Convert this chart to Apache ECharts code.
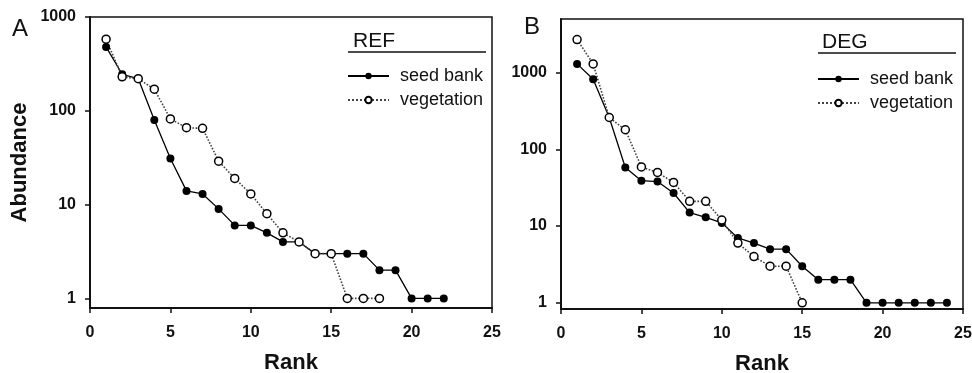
<!DOCTYPE html>
<html>
<head>
<meta charset="utf-8">
<script src="https://cdn.jsdelivr.net/npm/echarts@6/dist/echarts.min.js"></script>
<style>
  html, body { margin: 0; padding: 0; background: #fff; }
  #chart { width: 972px; height: 373px; }
</style>
</head>
<body>
<div id="chart"></div>
<script>
// rank-abundance values
const seedBankRef = [480, 245, 220, 80, 31, 14, 13, 9, 6, 6, 5, 4, 4, 3, 3, 3, 3, 2, 2, 1, 1, 1]
const vegetationRef = [580, 230, 220, 170, 82, 66, 65, 29, 19, 13, 8, 5, 4, 3, 3, 1, 1, 1]
const seedBankDeg = [1300, 820, 260, 58, 39, 38, 27, 15, 13, 11, 7, 6, 5, 5, 3, 2, 2, 2, 1, 1, 1, 1, 1, 1]
const vegetationDeg = [2700, 1300, 260, 180, 59, 50, 37, 21, 21, 12, 6, 4, 3, 3, 1]
const yTicks = [1, 10, 100, 1000]

const font = 'Liberation Sans, Arial, sans-serif'

function ranked(values) {
  return values.map((v, i) => [i + 1, v])
}

function xAxis(gridIndex) {
  return {
    type: 'value',
    gridIndex: gridIndex,
    min: 0,
    max: 25,
    interval: 5,
    name: 'Rank',
    nameLocation: 'middle',
    nameGap: 44,
    nameTextStyle: { fontFamily: font, fontSize: 22, fontWeight: 'bold', color: '#111' },
    axisLine: { onZero: false, lineStyle: { color: '#111', width: 2 } },
    axisTick: { length: 5, lineStyle: { color: '#111', width: 1.5 } },
    axisLabel: { margin: 17, fontFamily: font, fontSize: 16, fontWeight: 'bold', color: '#111' },
    splitLine: { show: false }
  }
}

function yAxis(gridIndex, min, max, name) {
  return {
    type: 'log',
    logBase: 10,
    gridIndex: gridIndex,
    min: min,
    max: max,
    name: name,
    nameLocation: 'middle',
    nameGap: 59,
    nameTextStyle: { fontFamily: font, fontSize: 22, fontWeight: 'bold', color: '#111' },
    axisLine: { show: true, lineStyle: { color: '#111', width: 2 } },
    axisTick: { show: true, length: 5, customValues: yTicks, lineStyle: { color: '#111', width: 1.5 } },
    axisLabel: {
      margin: 14,
      customValues: yTicks,
      formatter: v => String(v),
      fontFamily: font,
      fontSize: 16,
      fontWeight: 'bold',
      color: '#111'
    },
    splitLine: { show: false },
    minorTick: { show: false }
  }
}

function seedSeries(data, idx) {
  return {
    name: 'seed bank',
    type: 'line',
    xAxisIndex: idx,
    yAxisIndex: idx,
    data: ranked(data),
    symbol: 'circle',
    symbolSize: 8,
    itemStyle: { color: '#000' },
    lineStyle: { color: '#000', width: 1.3 },
    animation: false
  }
}

function vegSeries(data, idx) {
  return {
    name: 'vegetation',
    type: 'line',
    xAxisIndex: idx,
    yAxisIndex: idx,
    data: ranked(data),
    symbol: 'circle',
    symbolSize: 8,
    itemStyle: { color: '#fff', borderColor: '#000', borderWidth: 1.5 },
    lineStyle: { color: '#444', width: 1.6, type: 'dotted' },
    animation: false
  }
}

function legend(left, top) {
  return {
    left: left,
    top: top,
    orient: 'vertical',
    itemWidth: 41,
    itemHeight: 8,
    itemGap: 6,
    selectedMode: false,
    data: ['seed bank', 'vegetation'],
    textStyle: { fontFamily: font, fontSize: 18, color: '#111', padding: [0, 0, 0, 6] }
  }
}

const chart = echarts.init(document.getElementById('chart'))
chart.setOption({
  backgroundColor: '#fff',
  title: [
    { text: 'A', left: 7, top: 12, textStyle: { fontFamily: font, fontSize: 24, fontWeight: 'normal', color: '#111' } },
    { text: 'B', left: 519, top: 10, textStyle: { fontFamily: font, fontSize: 24, fontWeight: 'normal', color: '#111' } },
    { text: 'REF', left: 348, top: 26, textStyle: { fontFamily: font, fontSize: 21, fontWeight: 'normal', color: '#111' } },
    { text: 'DEG', left: 817, top: 27, textStyle: { fontFamily: font, fontSize: 21, fontWeight: 'normal', color: '#111' } }
  ],
  graphic: [
    { type: 'line', shape: { x1: 348, y1: 52, x2: 486, y2: 52 }, style: { stroke: '#111', lineWidth: 1.5 } },
    { type: 'line', shape: { x1: 818, y1: 53, x2: 956, y2: 53 }, style: { stroke: '#111', lineWidth: 1.5 } }
  ],
  legend: [legend(342, 62), legend(812, 65)],
  grid: [
    { left: 90, top: 17, width: 402, height: 291, outerBoundsMode: 'none', show: true, borderColor: '#111', borderWidth: 1.5 },
    { left: 561, top: 19, width: 402, height: 290, outerBoundsMode: 'none', show: true, borderColor: '#111', borderWidth: 1.5 }
  ],
  xAxis: [xAxis(0), xAxis(1)],
  yAxis: [yAxis(0, 0.79, 1000, 'Abundance'), yAxis(1, 0.83, 5000, '')],
  series: [
    seedSeries(seedBankRef, 0),
    vegSeries(vegetationRef, 0),
    seedSeries(seedBankDeg, 1),
    vegSeries(vegetationDeg, 1)
  ]
})
</script>
</body>
</html>
